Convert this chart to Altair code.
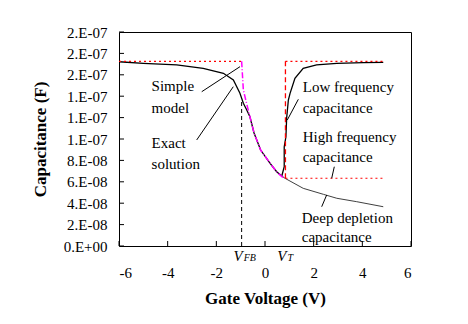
import altair as alt
import pandas as pd

# ---- data (Gate voltage in V, capacitance in F) ----
exact_v = [-6.0, -5.0, -3.63, -2.54, -1.71, -1.30, -1.03, -0.89, -0.75, -0.62, -0.45, -0.18, 0.21, 0.48, 0.69]
exact_c = [17.22e-8, 17.07e-8, 16.92e-8, 16.61e-8, 16.14e-8, 15.51e-8, 14.27e-8, 13.34e-8, 12.71e-8,
           12.08e-8, 10.56e-8, 8.97e-8, 7.73e-8, 6.94e-8, 6.54e-8]

lf_v = [0.69, 0.79, 0.79, 0.86, 0.89, 0.96, 1.03, 1.23, 1.57, 2.12, 2.95, 4.04, 4.86]
lf_c = [6.54e-8, 7.41e-8, 9.28e-8, 10.21e-8, 11.96e-8, 13.64e-8, 14.27e-8, 15.67e-8, 16.61e-8,
        16.92e-8, 17.07e-8, 17.13e-8, 17.17e-8]

dd_v = [0.69, 0.82, 1.57, 2.40, 2.95, 3.77, 4.86]
dd_c = [6.54e-8, 6.33e-8, 5.39e-8, 4.83e-8, 4.46e-8, 4.14e-8, 3.67e-8]

simple_dep_v = [-0.96, -0.89, -0.79, -0.62, -0.45, -0.18, 0.21, 0.48, 0.69, 0.84]
simple_dep_c = [17.26e-8, 14.58e-8, 13.64e-8, 12.08e-8, 10.56e-8, 8.97e-8, 7.73e-8, 6.94e-8, 6.48e-8, 6.33e-8]

cox = 17.26e-8
c_min_hf = 6.33e-8
v_fb = -0.96
v_t = 0.84
v_end = 4.86

acc_v = [-6.0, v_fb]
acc_c = [cox, cox]
lf_top_v = [v_t, v_end]
lf_top_c = [cox, cox]
hf_v = [v_t, v_end]
hf_c = [c_min_hf, c_min_hf]
vt_line_v = [v_t, v_t]
vt_line_c = [c_min_hf, cox]
vfb_line_v = [v_fb, v_fb]
vfb_line_c = [0.0, 13.5e-8]

# annotations
ann_text = ["Simple", "model", "Exact", "solution", "Low frequency", "capacitance",
            "High frequency", "capacitance", "Deep depletion", "capacitance"]
ann_v = [-4.66, -4.66, -4.66, -4.66, 1.55, 1.55, 1.55, 1.55, 1.51, 1.51]
ann_c = [14.49e-8, 12.46e-8, 9.13e-8, 7.17e-8, 14.42e-8, 12.46e-8, 9.75e-8, 7.88e-8, 2.12e-8, 0.33e-8]

leader_id = ["simple", "simple", "exact", "exact", "lf", "lf", "hf", "hf", "dd", "dd"]
leader_v = [-2.60, -1.027, -2.807, -1.303, 1.37, 0.917, 2.848, 2.741, 2.33, 2.535]
leader_c = [14.42e-8, 16.76e-8, 9.91e-8, 14.89e-8, 13.71e-8, 11.78e-8, 7.41e-8, 6.33e-8, 3.67e-8, 4.77e-8]

x_ticks = [-6, -4, -2, 0, 2, 4, 6]
y_tick_values = [0, 2e-8, 4e-8, 6e-8, 8e-8, 10e-8, 12e-8, 14e-8, 16e-8, 18e-8, 20e-8]
y_tick_labels = ["0.E+00", "2.E-08", "4.E-08", "6.E-08", "8.E-08", "1.E-07", "1.E-07", "1.E-07",
                 "2.E-07", "2.E-07", "2.E-07"]

FONT = "Liberation Serif"

xscale = alt.Scale(domain=[-6, 6], nice=False, zero=False)
yscale = alt.Scale(domain=[0, 2e-7], nice=False)

label_js = "[" + ",".join("'%s'" % s for s in y_tick_labels) + "][round(datum.value/2e-8)]"

xaxis = alt.Axis(values=x_ticks, title="Gate Voltage (V)", grid=False, ticks=False, domain=False,
                 labelExpr="'' + datum.value",
                 labelPadding=19, labelFont=FONT, labelFontSize=15, labelColor="black",
                 titleFont=FONT, titleFontSize=17, titleFontWeight="bold", titleColor="black",
                 titlePadding=10)
yaxis = alt.Axis(values=y_tick_values, title="Capacitance (F)", grid=False, ticks=False, domain=False,
                 labelExpr=label_js, labelPadding=12, labelFont=FONT, labelFontSize=15,
                 labelColor="black", titleFont=FONT, titleFontSize=17, titleFontWeight="bold",
                 titleColor="black", titlePadding=14)

X = lambda f="v:Q": alt.X(f, scale=xscale, axis=xaxis)
Y = lambda f="c:Q": alt.Y(f, scale=yscale, axis=yaxis)


def line_df(v, c):
    return pd.DataFrame({"v": v, "c": c, "o": list(range(len(v)))})


def line(v, c, color, width=1.3, dash=None):
    kw = dict(color=color, strokeWidth=width, clip=False)
    if dash is not None:
        kw["strokeDash"] = dash
    return alt.Chart(line_df(v, c)).mark_line(**kw).encode(x=X(), y=Y(), order="o:Q")


base = line(exact_v, exact_c, "black", 1.3)
lf = line(lf_v, lf_c, "black", 1.3)
dd = line(dd_v, dd_c, "#404040", 1.0)
vfb = line(vfb_line_v, vfb_line_c, "black", 1.0, [4, 3])
simple_dep = line(simple_dep_v, simple_dep_c, "#ff00ff", 1.5, [6, 2, 1, 2])
acc = line(acc_v, acc_c, "#ff0000", 1.2, [2, 3])
lftop = line(lf_top_v, lf_top_c, "#ff0000", 1.2, [2, 3])
hf = line(hf_v, hf_c, "#ff0000", 1.2, [2, 3])
vtl = line(vt_line_v, vt_line_c, "#ff0000", 1.3, [5, 3])

leaders = alt.Chart(pd.DataFrame({"id": leader_id, "v": leader_v, "c": leader_c})).mark_line(
    color="black", strokeWidth=1).encode(x=X(), y=Y(), detail="id:N")

ann = alt.Chart(pd.DataFrame({"t": ann_text, "v": ann_v, "c": ann_c})).mark_text(
    font=FONT, fontSize=15, align="left", baseline="alphabetic", color="black").encode(
    x=X(), y=Y(), text="t:N")

# V_FB and V_T labels below axis
vlab_v = [v_fb, v_t]
vlab_main = ["V", "V"]
vlab_sub = ["FB", "T"]
vmain = alt.Chart(pd.DataFrame({"v": vlab_v, "t": vlab_main})).mark_text(
    font=FONT, fontSize=15, fontStyle="italic", align="right", baseline="alphabetic",
    color="black", dx=1).encode(x=X(), y=alt.value(229), text="t:N")
vsub = alt.Chart(pd.DataFrame({"v": vlab_v, "t": vlab_sub})).mark_text(
    font=FONT, fontSize=10, fontStyle="italic", align="left", baseline="alphabetic",
    color="black", dx=2).encode(x=X(), y=alt.value(229), text="t:N")

# inward ticks
xt = alt.Chart(pd.DataFrame({"v": x_ticks})).mark_rule(color="black", strokeWidth=1).encode(
    x=X(), y=alt.value(214), y2=alt.value(209))
yt = alt.Chart(pd.DataFrame({"c": y_tick_values})).mark_rule(color="black", strokeWidth=1).encode(
    y=Y(), x=alt.value(0), x2=alt.value(5))

chart = alt.layer(base, lf, dd, vfb, simple_dep, acc, lftop, hf, vtl, leaders, ann, vmain, vsub, xt, yt).properties(
    width=292, height=214,
    autosize=alt.AutoSizeParams(type="none"),
    padding={"left": 111, "top": 24, "right": 40, "bottom": 70},
    background="white",
).configure_view(stroke="black", strokeWidth=1)

chart.save("out.html", embed_options={"renderer": "svg", "actions": False})
